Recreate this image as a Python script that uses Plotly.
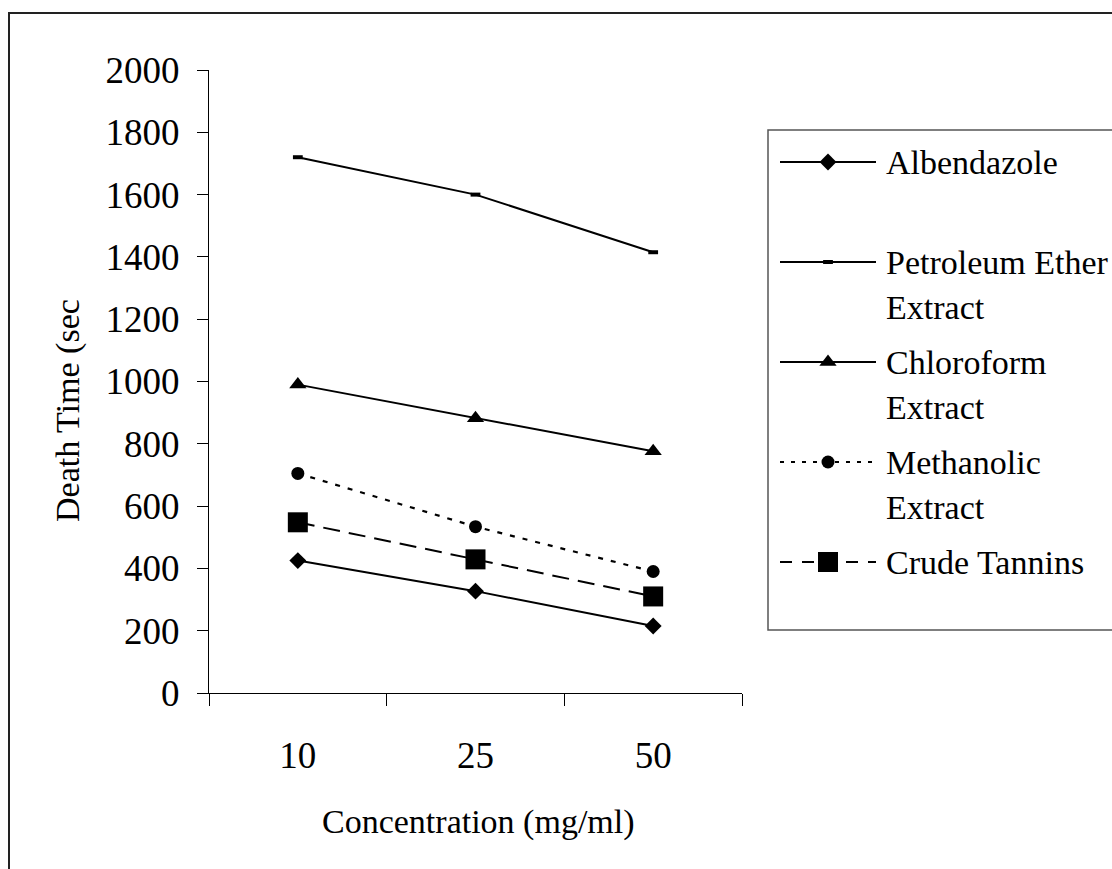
import plotly.graph_objects as go

# ---- data ----
concentrations = ["10", "25", "50"]
albendazole = [425, 327, 215]
petroleum_ether = [1720, 1600, 1415]
chloroform = [990, 882, 776]
methanolic = [705, 534, 390]
crude_tannins = [548, 429, 310]

y_ticks = [0, 200, 400, 600, 800, 1000, 1200, 1400, 1600, 1800, 2000]
legend_lines = [["Albendazole"], ["Petroleum Ether", "Extract"], ["Chloroform", "Extract"],
                ["Methanolic", "Extract"], ["Crude Tannins"]]

W, H = 1112, 869
FONT = "Liberation Serif, Times New Roman, serif"

def px_x(p):
    return p / W

def px_y(p):
    return 1 - p / H

styles = [
    dict(name="Albendazole", y=albendazole, dash="solid", lw=2,
         marker=dict(symbol="diamond", size=13, color="black")),
    dict(name="Petroleum Ether Extract", y=petroleum_ether, dash="solid", lw=2,
         marker=dict(symbol="line-ew", size=7, color="black", line=dict(width=4, color="black"))),
    dict(name="Chloroform Extract", y=chloroform, dash="solid", lw=2,
         marker=dict(symbol="triangle-up", size=15, color="black")),
    dict(name="Methanolic Extract", y=methanolic, dash="5px,8px", lw=2.2,
         marker=dict(symbol="circle", size=13, color="black")),
    dict(name="Crude Tannins", y=crude_tannins, dash="17px,9px", lw=2,
         marker=dict(symbol="square", size=20, color="black")),
]

fig = go.Figure()
for s in styles:
    fig.add_trace(go.Scatter(
        x=concentrations, y=s["y"], mode="lines+markers", name=s["name"],
        line=dict(color="black", width=s["lw"], dash=s["dash"]),
        marker=s["marker"], showlegend=False, xaxis="x", yaxis="y"))

# ---- custom legend keys on a hidden axis ----
legend_dash = ["solid", "solid", "solid", "4px,7px", "12px,10px"]
for i, s in enumerate(styles):
    fig.add_trace(go.Scatter(
        x=[0, 1], y=[i, i], mode="lines", showlegend=False, hoverinfo="skip",
        line=dict(color="black", width=s["lw"], dash=legend_dash[i]),
        xaxis="x2", yaxis="y2"))
    fig.add_trace(go.Scatter(
        x=[0.5], y=[i], mode="markers", showlegend=False, hoverinfo="skip",
        marker=dict(s["marker"]), xaxis="x2", yaxis="y2"))

annotations = []
for i, lines in enumerate(legend_lines):
    for j, t in enumerate(lines):
        annotations.append(dict(
            text=t, x=884 / W, xref="paper", xanchor="left",
            y=i + 0.45 * j, yref="y2", yanchor="middle", showarrow=False,
            font=dict(family=FONT, size=34, color="black")))

# axis titles
annotations.append(dict(text="Concentration (mg/ml)", x=px_x(478), y=px_y(822),
                        xref="paper", yref="paper", xanchor="center", yanchor="middle",
                        showarrow=False, font=dict(family=FONT, size=34, color="black")))
annotations.append(dict(text="Death Time (sec", x=px_x(68), y=px_y(411),
                        xref="paper", yref="paper", xanchor="center", yanchor="middle",
                        textangle=-90, showarrow=False,
                        font=dict(family=FONT, size=34, color="black")))

shapes = [
    # outer chart border
    dict(type="rect", xref="paper", yref="paper", x0=px_x(9), y0=-0.05, x1=1.05, y1=px_y(13),
         line=dict(color="#222", width=2), fillcolor="rgba(0,0,0,0)", layer="below"),
    # legend box
    dict(type="rect", xref="paper", yref="paper", x0=px_x(768), y0=px_y(630), x1=1.05, y1=px_y(130),
         line=dict(color="#555", width=1.5), fillcolor="rgba(0,0,0,0)", layer="below"),
]

fig.update_layout(
    width=W, height=H, margin=dict(l=0, r=0, t=0, b=0, pad=0, autoexpand=False),
    paper_bgcolor="white", plot_bgcolor="white", showlegend=False,
    font=dict(family=FONT, color="black"),
    xaxis=dict(domain=[px_x(209), px_x(742)], type="category", range=[-0.5, 2.5],
               showline=True, linecolor="black", linewidth=1.3, ticks="outside",
               tickson="boundaries", ticklen=12, tickcolor="black", tickwidth=1.3,
               showgrid=False, zeroline=False, ticklabelstandoff=29, automargin=False,
               tickfont=dict(family=FONT, size=37, color="black"), anchor="y"),
    yaxis=dict(domain=[px_y(693), px_y(70)], range=[0, 2000], tickvals=y_ticks,
               showline=True, linecolor="black", linewidth=1.3, ticks="outside",
               ticklen=11, tickcolor="black", tickwidth=1.3, showgrid=False, zeroline=False,
               ticklabelstandoff=10, automargin=False,
               tickfont=dict(family=FONT, size=37, color="black"), anchor="x"),
    xaxis2=dict(domain=[px_x(780), px_x(876)], range=[0, 1], visible=False, anchor="y2",
                fixedrange=True, automargin=False),
    yaxis2=dict(domain=[px_y(630), px_y(130)], range=[4.68, -0.32], visible=False,
                anchor="x2", fixedrange=True, automargin=False),
    annotations=annotations, shapes=shapes,
)

fig.write_html("out.html")
